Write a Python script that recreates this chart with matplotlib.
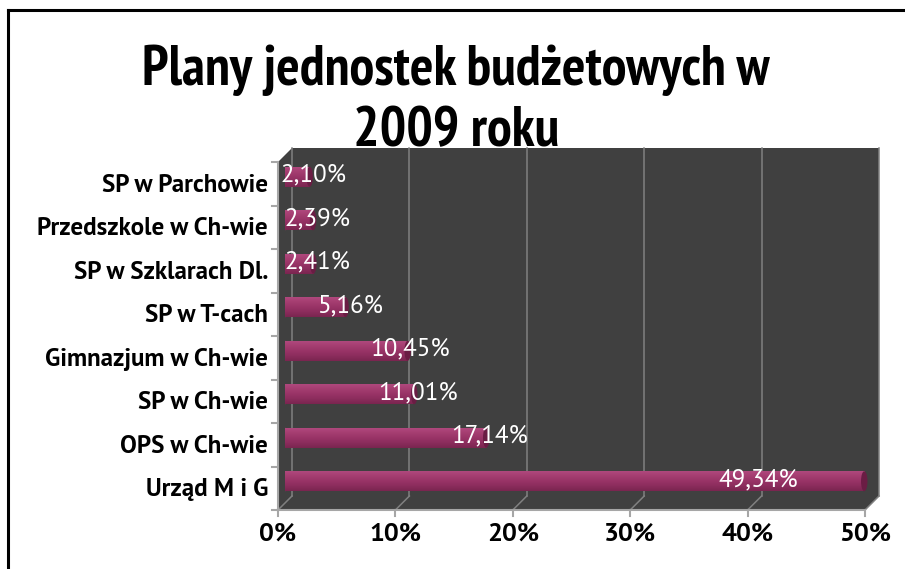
import numpy as np
import matplotlib
matplotlib.use("Agg")
import matplotlib.pyplot as plt
from matplotlib.patches import Polygon, Ellipse
from matplotlib.lines import Line2D
from matplotlib.colors import LinearSegmentedColormap

# ---------------- data ----------------
categories = ["SP w Parchowie", "Przedszkole w Ch-wie", "SP w Szklarach Dl.",
              "SP w T-cach", "Gimnazjum w Ch-wie", "SP w Ch-wie",
              "OPS w Ch-wie", "Urząd M i G"]
values = [2.10, 2.39, 2.41, 5.16, 10.45, 11.01, 17.14, 49.34]
value_labels = ["2,10%", "2,39%", "2,41%", "5,16%", "10,45%", "11,01%", "17,14%", "49,34%"]
tick_values = [0, 10, 20, 30, 40, 50]
tick_labels = ["0%", "10%", "20%", "30%", "40%", "50%"]
title = "Plany jednostek budżetowych w\n2009 roku"

# layout (label centre positions along value axis)
label_pos = [2.4, 2.75, 2.75, 5.55, 10.65, 11.35, 17.4, 40.3]

W, H = 905, 569
fig = plt.figure(figsize=(W / 100, H / 100), dpi=100)
fig.patch.set_facecolor("white")

NARROW = ["PT Sans Narrow", "IBM Plex Sans Condensed", "Liberation Sans", "DejaVu Sans"]
SANS = ["PT Sans", "Liberation Sans", "DejaVu Sans"]

# mid-depth plane axes
x0, x1 = 285, 872
y0, y1 = 155, 503
ax = fig.add_axes([x0 / W, 1 - y1 / H, (x1 - x0) / W, (y1 - y0) / H])
ax.set_zorder(2)
ax.patch.set_visible(False)
ax.set_xlim(0, 50)
n = len(categories)
ax.set_ylim(n - 0.5, -0.5)
ax.axis("off")

D = 7  # depth offset in px
ftrans = fig.transFigure.inverted()


def pt(x, y, depth):
    """depth: -1 front, 0 mid, +1 back -> figure fraction coords"""
    px, py = ax.transData.transform((x, y))
    px += depth * D
    py += depth * D
    return ftrans.transform((px, py))


ytop, ybot = -0.5, n - 0.5
dark = "#404040"
box = [pt(0, ytop, -1), pt(0, ytop, 1), pt(50, ytop, 1), pt(50, ybot, 1),
       pt(50, ybot, -1), pt(0, ybot, -1)]
fig.add_artist(Polygon(box, closed=True, facecolor=dark, edgecolor="none",
                       transform=fig.transFigure, zorder=0.5))

grid_c = "#808080"
for t in tick_values:
    a, b = pt(t, ytop, 1), pt(t, ybot, 1)
    fig.add_artist(Line2D([a[0], b[0]], [a[1], b[1]], color=grid_c, lw=1.1,
                          transform=fig.transFigure, zorder=0.6))
    c = pt(t, ybot, -1)
    fig.add_artist(Line2D([c[0], b[0]], [c[1], b[1]], color=grid_c, lw=1.1,
                          transform=fig.transFigure, zorder=0.6))

axis_c = "#a6a6a6"
a, b = pt(0, ytop, -1), pt(0, ybot, -1)
fig.add_artist(Line2D([a[0], b[0]], [a[1], b[1]], color=axis_c, lw=1.5,
                      transform=fig.transFigure, zorder=0.7))
c = pt(50, ybot, -1)
fig.add_artist(Line2D([b[0], c[0]], [b[1], c[1]], color=axis_c, lw=1.5,
                      transform=fig.transFigure, zorder=0.7))
for k in range(n + 1):
    p = pt(0, k - 0.5, -1)
    fig.add_artist(Line2D([p[0] - 6 / W, p[0]], [p[1], p[1]], color=axis_c, lw=1.5,
                          transform=fig.transFigure, zorder=0.7))
for t in tick_values:
    p = pt(t, ybot, -1)
    fig.add_artist(Line2D([p[0], p[0]], [p[1] - 6 / H, p[1]], color=axis_c, lw=1.5,
                          transform=fig.transFigure, zorder=0.7))

# bars (cylinders)
bh = 0.46
bars = ax.barh(range(n), values, height=bh, color="#993366", zorder=2)
grad_cols = ["#b24a80", "#a63f72", "#9a3467", "#8c2d5d", "#7a2550"]
cmap = LinearSegmentedColormap.from_list("g", grad_cols)
grad = np.linspace(0, 1, 64).reshape(-1, 1)
cap_w = 0.55
for i, (rect, v) in enumerate(zip(bars, values)):
    im = ax.imshow(grad, extent=(0, v, i + bh / 2, i - bh / 2), cmap=cmap,
                   aspect="auto", zorder=2.1, interpolation="bilinear")
    im.set_clip_path(rect)
    ax.add_patch(Ellipse((0, i), cap_w, bh, facecolor="#993366", edgecolor="none", zorder=1.9))
    ax.add_patch(Ellipse((v, i), cap_w, bh, facecolor="#6a1d44", edgecolor="none", zorder=2.3))
    ax.text(label_pos[i], i - 0.03, value_labels[i], color="white", ha="center",
            va="center", fontsize=18, family=SANS, zorder=3)

ax.set_xlim(0, 50)
ax.set_ylim(n - 0.5, -0.5)

for i, lab in enumerate(categories):
    p = pt(0, i, -1)
    fig.text(p[0] - 10 / W, p[1] - 1.5 / H, lab, ha="right", va="center",
             fontsize=18, fontweight="bold", family=SANS)

for t, lab in zip(tick_values, tick_labels):
    p = pt(t, ybot, -1)
    fig.text(p[0], p[1] - 24 / H, lab, ha="center", va="center",
             fontsize=19, fontweight="bold", family=SANS)

fig.text(456 / W, 1 - 101 / H, title, ha="center", va="center", fontsize=40,
         fontweight="bold", family=NARROW, linespacing=1.27, multialignment="center")

fig.add_artist(Line2D([8 / W, 8 / W], [0, 1 - 10 / H], color="black", lw=2.2,
                      transform=fig.transFigure))
fig.add_artist(Line2D([8 / W, 1], [1 - 10 / H, 1 - 10 / H], color="black", lw=2.2,
                      transform=fig.transFigure))

fig.savefig("out.png", dpi=100)
